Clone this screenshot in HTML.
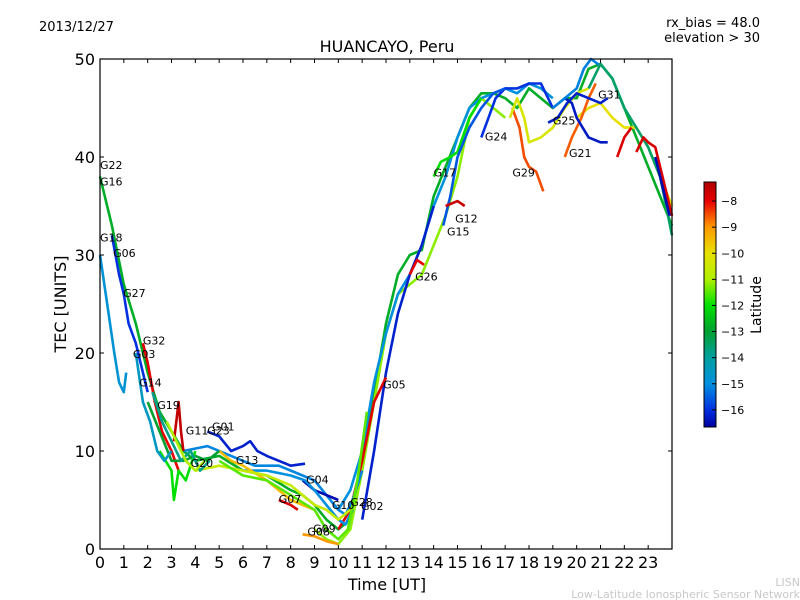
<!DOCTYPE html>
<html><head><meta charset="utf-8"><style>
body{margin:0;background:#fff;}
svg{display:block;font-family:"DejaVu Sans","Liberation Sans",sans-serif;}
</style></head><body>
<svg id="chart" width="800" height="600" viewBox="0 0 800 600" xmlns="http://www.w3.org/2000/svg">
<rect width="800" height="600" fill="#fff"/>
<text x="39" y="31" font-size="13">2013/12/27</text>
<text x="760" y="27" font-size="13" text-anchor="end">rx_bias = 48.0</text>
<text x="760" y="42" font-size="13" text-anchor="end">elevation &gt; 30</text>
<text x="387" y="52" font-size="16" text-anchor="middle">HUANCAYO, Peru</text>
<g id="traces"></g>
<g id="labels"></g>
<rect x="100" y="59" width="572" height="490" fill="none" stroke="#000" stroke-width="1.2"/>
<g id="axes"></g>
<text x="387" y="590" font-size="16" text-anchor="middle">Time [UT]</text>
<text x="66" y="304" font-size="16" text-anchor="middle" transform="rotate(-90 66 304)">TEC [UNITS]</text>
<defs><linearGradient id="cmap" x1="0" y1="0" x2="0" y2="1">
<stop offset="0" stop-color="#b00000"/><stop offset="0.078" stop-color="#e80000"/><stop offset="0.184" stop-color="#ff9900"/><stop offset="0.29" stop-color="#e8e000"/><stop offset="0.397" stop-color="#b0f000"/><stop offset="0.504" stop-color="#00e000"/><stop offset="0.61" stop-color="#00a030"/><stop offset="0.717" stop-color="#00a0a0"/><stop offset="0.824" stop-color="#0090e0"/><stop offset="0.93" stop-color="#0030e0"/><stop offset="1" stop-color="#0000a0"/>
</linearGradient></defs>
<rect x="704" y="182" width="12" height="245" fill="url(#cmap)" stroke="#000" stroke-width="1"/>
<g id="cbar"></g>
<text x="761" y="305" font-size="14" text-anchor="middle" transform="rotate(-90 761 305)">Latitude</text>
<text x="800" y="586" font-size="11" fill="#c8c8c8" text-anchor="end">LISN</text>
<text x="800" y="598" font-size="11" fill="#c8c8c8" text-anchor="end">Low-Latitude Ionospheric Sensor Network</text>
</svg>
<script>
const xTicks=[0,1,2,3,4,5,6,7,8,9,10,11,12,13,14,15,16,17,18,19,20,21,22,23];
const yTicks=[0,10,20,30,40,50];
const cbTicks=[-8,-9,-10,-11,-12,-13,-14,-15,-16];
const traceLats=[-12.8,-11.2,-10,-15,-16,-8.5,-10.3,-8.6,-16.2,-16.3,-15.2,-13.5,-7.8,-7.8,-16.5,-12,-16.2,-15.6,-7.6,-8,-7.9,-15.1,-16.5,-16.2,-15,-9.5,-7.8,-10.6,-9,-11.5,-8,-7.5,-13,-12,-14.5,-14.8,-16,-13.8,-11];
const traceTimes=[
[0,0.5,1,1.5,2,2.5,3,3.5,4,5,6,7,8,8.5,9,9.5,10,10.5,11,11.5,12,12.5,13,13.5,14,14.5,15,15.5,16,16.5,17,17.5,18,18.5,19,19.5,20,20.5,21,21.5,22,22.5,23,23.5,24],
[9,9.5,10,10.5,11,11.5,12,12.5,13,13.5,14,14.5,15,15.5,16,16.5,17],
[20,20.5,21,21.5,22,22.5,23,23.5,24],
[10,10.5,11,11.5,12,12.5,13,13.5,14,14.5,15,15.5,16,16.5,17,17.5,18,18.5,19],
[16,16.3,16.6,17,17.5,18,18.5,18.8,19],
[17.3,17.6,17.8,18,18.3,18.6],
[17.2,17.5,17.8,18,18.5,19,19.5,20,20.5],
[19.5,19.8,20.2,20.5,20.8],
[18.8,19.2,19.6,20,20.5,21,21.3],
[19.5,19.8,20,20.5,21,21.3],
[19,19.5,20,20.3,20.6,21],
[20.5,21,21.5,22,22.5,23,23.5,24],
[21.7,22,22.3],
[22.5,22.8,23,23.3,23.6,24],
[23.3,23.6,23.9],
[14,14.3,14.7,15,15.5,16],
[11,11.5,12,12.5,13,13.5,14],
[14.4,14.7,15,15.5,16,16.5,17],
[14.5,15,15.3],
[13,13.3,13.6],
[10,10.5,11,11.5,12],
[3.5,4.5,5.5,6.5,7.5,8.5,9,9.5,10,10.3,10.6,11],
[8.5,9,9.5,10],
[4.5,5,5.5,6,6.3,6.6,7,7.5,8,8.6],
[6,7,8,8.6,9,9.5,10,10.3,10.6],
[5,5.5,6,7,7.5,8,8.5,9],
[7.5,8,8.3],
[4,5,6,7,8,8.5,9,9.5,10,10.5],
[8.5,9,9.5,10],
[5,6,7,8,9,9.5,10,10.4,10.8,11.2],
[1.8,2,2.3,2.6,3,3.3],
[3.1,3.2,3.3,3.4,3.5],
[2,2.5,3,3.5,4,4.5,5],
[2.5,3,3.1,3.3,3.6,4],
[1.5,1.8,2.1,2.4,2.7,3],
[0,0.3,0.6,0.8,1,1.1],
[0.5,0.8,1,1.2,1.5,1.8,2],
[2.2,2.6,3,3.4,3.8,4.2,4.6],
[2.8,3.2,3.6,4,4.4]
];
const traceTec=[
[38,33,27,23,18,14,12,10,9,9.5,8,7.5,6,5.5,4.5,3,2,3,9,16,23,28,30,30.5,36,39,42,45,46.5,46.5,46,45,47,46,45,46,46,49,49.5,48,45,42,39,36,33],
[2,1,0.5,2,8,15,22,26,27,28,31,34,38,44,46,45,44],
[44,45,45.5,44,43,43,41,38,35],
[4,6,10,17,22,26,28,31,35,38,42,45,46,46.5,47,46.5,47.5,47,46],
[42,44,46,47,47,47.5,47.5,46,45],
[45,43,40,39,38.5,36.5],
[44,46,44,41.5,42,43,45,46.5,47],
[40,42,44,46,47.5],
[43.5,44,45.5,46.5,46,45.5,46],
[46,45.5,44,42,41.5,41.5],
[45,46,47,49,50,49.3],
[47,49.5,48,45,43,41,38,32],
[40,42,43],
[40.5,42,41.5,41,38,34],
[40,37,34],
[38,39.5,40,40.5,44,46],
[3,10,18,24,28,31,35],
[33,36,40,43,45,46.5,47],
[35,35.5,35],
[28,29.5,29],
[2,4,9,15,17.5],
[10,10.5,9.5,8.5,8.5,7.5,7,5.5,4,3.5,5,8],
[7,6,5.5,5],
[12,11.5,10,10.5,11,10,9.5,9,8.5,8.7],
[8,8,7.5,7,6,4.5,3,2.5,4],
[10,9,8.5,7,6,5,4.5,4],
[5,4.5,4],
[8,8.5,8,7.5,6.5,5.5,4.5,4,3,4],
[1.5,1.3,0.8,0.5],
[9,7.5,7,5.5,4,2,1,2,7,14],
[21,19,15,12,10,8],
[11,13,15,12,10],
[15,12,9,9,9.5,9,10],
[10,8,5,8,7,10],
[20,15,13,10,9,10],
[30,25,20,17,16,18],
[32,28,26,23,21,18,16],
[16,13,11,9,10,8,9],
[13,11,9,8,9]
];
const labelNames=["G22","G16","G18","G06","G27","G32","G03","G14","G19","G11","G23","G01","G20","G13","G04","G07","G10","G28","G02","G08","G09","G05","G26","G15","G12","G17","G24","G29","G25","G21","G31"];
const labelT=[0,0,0,0.55,0.97,1.8,1.38,1.64,2.4,3.6,4.5,4.7,3.8,5.7,8.65,7.5,9.73,10.5,10.95,8.7,8.94,11.88,13.22,14.56,14.9,14.0,16.15,17.3,19.0,19.68,20.9];
const labelV=[39.2,37.5,31.8,30.2,26.1,21.3,19.9,17,14.7,12.1,12.1,12.5,8.8,9.1,7.1,5.1,4.5,4.8,4.4,1.8,2.1,16.8,27.8,32.4,33.7,38.4,42.1,38.4,43.7,40.4,46.4];

const X=t=>100+t*572/24, Y=v=>549-v*9.8;
const CY=l=>182+(-7.27-l)*26.1;
const cmLat=[-7.27,-8,-9,-10,-11,-12,-13,-14,-15,-16,-16.65];
const cmRGB=[[176,0,0],[232,0,0],[255,153,0],[232,224,0],[176,240,0],[0,224,0],[0,160,48],[0,160,160],[0,144,224],[0,48,224],[0,0,160]];
function cmap(l){
 if(l>=cmLat[0])return `rgb(${cmRGB[0]})`;
 for(let i=1;i<cmLat.length;i++){if(l>=cmLat[i]){const f=(cmLat[i-1]-l)/(cmLat[i-1]-cmLat[i]);
  const c=cmRGB[i-1].map((v,k)=>Math.round(v+(cmRGB[i][k]-v)*f));return `rgb(${c})`;}}
 return `rgb(${cmRGB[cmRGB.length-1]})`;}
const NS="http://www.w3.org/2000/svg";
const tg=document.getElementById('traces');
traceTimes.forEach((ts,i)=>{
 const p=document.createElementNS(NS,'polyline');
 
 
 p.setAttribute('points',ts.map((t,j)=>X(t).toFixed(1)+','+Y(traceTec[i][j]).toFixed(1)).join(' '));
 p.setAttribute('fill','none');p.setAttribute('stroke',cmap(traceLats[i]));
 p.setAttribute('stroke-width','2.6');p.setAttribute('stroke-linejoin','round');
 tg.appendChild(p);
});
const lg=document.getElementById('labels');
labelNames.forEach((n,i)=>{
 const t=document.createElementNS(NS,'text');
 
 
 t.setAttribute('x',X(labelT[i]));t.setAttribute('y',Y(labelV[i])+4);
 t.setAttribute('font-size','11');t.textContent=n;lg.appendChild(t);
});
const ag=document.getElementById('axes');
function ln(x1,y1,x2,y2,g){const l=document.createElementNS(NS,'line');
 
 
 l.setAttribute('x1',x1);l.setAttribute('y1',y1);l.setAttribute('x2',x2);l.setAttribute('y2',y2);
 l.setAttribute('stroke','#000');l.setAttribute('stroke-width','1');g.appendChild(l);}
function tx(x,y,s,fs,anchor,g){const t=document.createElementNS(NS,'text');
 
 
 t.setAttribute('x',x);t.setAttribute('y',y);t.setAttribute('font-size',fs);t.setAttribute('text-anchor',anchor);t.textContent=s;g.appendChild(t);}
xTicks.forEach(t=>{const x=X(t);ln(x,549,x,545,ag);ln(x,59,x,63,ag);tx(x,568,String(t),16,'middle',ag);});
yTicks.forEach(v=>{const y=Y(v);ln(100,y,104,y,ag);ln(672,y,668,y,ag);tx(95,y+6,String(v),16,'end',ag);});
const cg=document.getElementById('cbar');
cbTicks.forEach(l=>{const y=CY(l);ln(712,y,716,y,cg);tx(721,y+4,'\u2212'+Math.abs(l),11,'start',cg);});
</script>
</body></html>
